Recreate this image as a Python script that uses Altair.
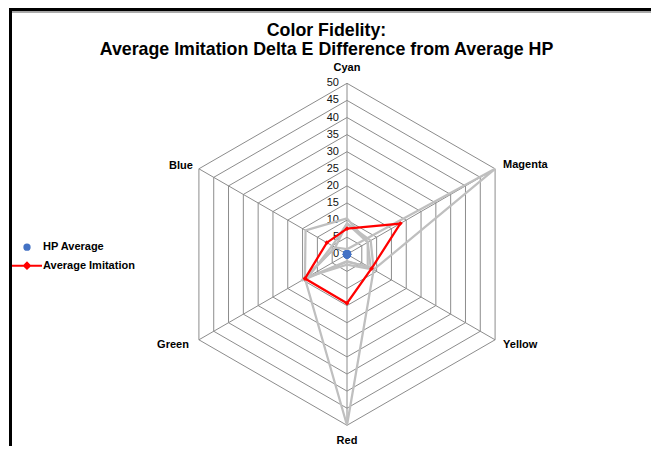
import altair as alt
import pandas as pd

FONT = "Liberation Sans"
BLUE = "#4472C4"
RED = "#FF0000"
GRAY_SERIES = "#BFBFBF"
GRID = "#8C8C8C"

categories = ["Cyan", "Magenta", "Yellow", "Red", "Green", "Blue"]
tick_values = [0, 5, 10, 15, 20, 25, 30, 35, 40, 45, 50]
ring_values = [5, 10, 15, 20, 25, 30, 35, 40, 45, 50]
series_names = ["HP Average", "Average Imitation"]

hp_average = [0, 0, 0, 0, 0, 0]
average_imitation = [7.5, 18.0, 8.3, 14.3, 14.2, 6.8]

imitation_1 = [1.5, 50.0, 9.0, 50.0, 14.2, 4.0]
imitation_2 = [10.5, 7.0, 8.0, 2.0, 14.2, 14.0]
imitation_3 = [9.0, 8.0, 9.0, 3.0, 13.0, 5.0]
imitation_4 = [9.0, 7.0, 7.0, 2.2, 15.4, 4.0]
gray_series = [imitation_1, imitation_2, imitation_3, imitation_4]

# layout (pixels)
TOTAL_W, TOTAL_H, PAD_TOP = 643, 438, 60
PLOT_W, PLOT_H = TOTAL_W, TOTAL_H - PAD_TOP
PX_PER_UNIT = 3.42
CX, CY = 339.0, 186.3
X_DOMAIN = [-CX / PX_PER_UNIT, (PLOT_W - CX) / PX_PER_UNIT]
Y_DOMAIN = [-(PLOT_H - CY) / PX_PER_UNIT, CY / PX_PER_UNIT]


def polygon_rows(name, values, close=True):
    n = len(categories)
    rows = []
    for k in range(n + 1 if close else n):
        i = k % n
        rows.append({"series": name, "category": categories[i], "idx": i,
                     "ord": k, "value": values[i]})
    return rows


rows = []
for j, s in enumerate(gray_series):
    rows += polygon_rows(f"Imitation {j + 1}", s)
gray_df = pd.DataFrame(rows)
avg_df = pd.DataFrame(polygon_rows("Average Imitation", average_imitation))
avg_pts_df = pd.DataFrame(polygon_rows("Average Imitation", average_imitation, close=False))
hp_pts_df = pd.DataFrame(polygon_rows("HP Average", hp_average, close=False))
legend_df = pd.DataFrame({"series": series_names})

ring_rows = []
for r in ring_values:
    ring_rows += polygon_rows(f"r{r}", [r] * 6)
ring_df = pd.DataFrame(ring_rows)
spoke_df = pd.DataFrame({"category": categories, "idx": list(range(6)), "value": [50] * 6})
tick_df = pd.DataFrame({"value": tick_values})

XS = alt.Scale(domain=X_DOMAIN, nice=False, zero=False)
YS = alt.Scale(domain=Y_DOMAIN, nice=False, zero=False)


def polar(ch):
    return ch.transform_calculate(
        x="datum.value * cos(PI / 2 - datum.idx * PI / 3)",
        y="datum.value * sin(PI / 2 - datum.idx * PI / 3)",
    )


X = alt.X("x:Q", scale=XS, axis=None)
Y = alt.Y("y:Q", scale=YS, axis=None)

rings = polar(alt.Chart(ring_df)).mark_line(color=GRID, strokeWidth=1).encode(
    x=X, y=Y, detail="series:N", order="ord:Q")

spokes = polar(alt.Chart(spoke_df)).transform_calculate(x0="0", y0="0").mark_rule(
    color=GRID, strokeWidth=1).encode(
    x=alt.X("x0:Q", scale=XS, axis=None), y=alt.Y("y0:Q", scale=YS, axis=None),
    x2="x:Q", y2="y:Q")

ticks = alt.Chart(tick_df).transform_calculate(x="0", y="datum.value").mark_text(
    align="right", baseline="middle", dx=-8, font=FONT, fontSize=11, color="#111").encode(
    x=X, y=Y, text="value:Q")

label_specs = {
    "Cyan": dict(align="center", dx=0, dy=-15),
    "Magenta": dict(align="left", dx=8, dy=-4),
    "Yellow": dict(align="left", dx=8, dy=5),
    "Red": dict(align="center", dx=0, dy=16),
    "Green": dict(align="right", dx=-10, dy=5),
    "Blue": dict(align="right", dx=-6, dy=-3),
}
label_layers = []
for cat, spec in label_specs.items():
    label_layers.append(
        polar(alt.Chart(spoke_df)).transform_filter(alt.datum.category == cat).mark_text(
            baseline="middle", font=FONT, fontSize=11, fontWeight="bold", color="black", **spec
        ).encode(x=X, y=Y, text="category:N"))

gray_lines = polar(alt.Chart(gray_df)).mark_line(color=GRAY_SERIES, strokeWidth=2.25).encode(
    x=X, y=Y, detail="series:N", order="ord:Q")

avg_line = polar(alt.Chart(avg_df)).mark_line(color=RED, strokeWidth=2.25).encode(
    x=X, y=Y, order="ord:Q")

avg_pts = polar(alt.Chart(avg_pts_df)).mark_point(
    filled=True, opacity=1, shape="diamond", size=22, color=RED).encode(x=X, y=Y)

hp_pts = polar(alt.Chart(hp_pts_df)).mark_point(
    filled=True, opacity=1, shape="circle", size=70, color=BLUE).encode(x=X, y=Y)

# legend-only layer (its own marks are drawn outside the clipped plot area)
LINE_PATH = "M-1,0H1M0,-0.2L0.2,0L0,0.2L-0.2,0Z"
legend = alt.Legend(
    title=None, orient="none", legendX=3, legendY=171.2, padding=0,
    clipHeight=16, rowPadding=2.5,
    labelFont=FONT, labelFontSize=11, labelFontWeight="bold", labelColor="black",
    labelOffset=0, symbolStrokeWidth=2, symbolOpacity=1,
)
legend_layer = alt.Chart(legend_df).mark_point(
    filled=True, clip=True, strokeWidth=2, opacity=1).encode(
    x=alt.value(-300), y=alt.value(-300),
    fill=alt.Fill("series:N", scale=alt.Scale(domain=series_names, range=[BLUE, RED]),
                  legend=legend),
    stroke=alt.Stroke("series:N", scale=alt.Scale(domain=series_names, range=[BLUE, RED]),
                      legend=legend),
    shape=alt.Shape("series:N", scale=alt.Scale(domain=series_names, range=["circle", LINE_PATH]),
                    legend=legend),
    size=alt.Size("series:N", scale=alt.Scale(domain=series_names, range=[28, 900]),
                  legend=legend),
)

border_top = alt.Chart(tick_df).mark_rule(color="black", strokeWidth=2).encode(
    x=alt.value(1.5), x2=alt.value(TOTAL_W + 20), y=alt.value(-PAD_TOP + 1.5))
border_shadow = alt.Chart(tick_df).mark_rule(color="#A6A6A6", strokeWidth=1.5).encode(
    x=alt.value(3), x2=alt.value(TOTAL_W + 20), y=alt.value(-PAD_TOP + 3.5))
border_left = alt.Chart(tick_df).mark_rule(color="black", strokeWidth=2).encode(
    x=alt.value(2.5), y=alt.value(-PAD_TOP + 0.5), y2=alt.value(PLOT_H + 20))

chart = alt.layer(
    rings, spokes, ticks, *label_layers, gray_lines, avg_line, avg_pts, hp_pts,
    legend_layer, border_shadow, border_top, border_left,
).properties(
    width=PLOT_W, height=PLOT_H,
    background="white",
    padding={"left": 0, "top": PAD_TOP, "right": 0, "bottom": 0},
    autosize=alt.AutoSizeParams(type="none"),
    title=alt.TitleParams(
        text=["Color Fidelity:", "Average Imitation Delta E Difference from Average HP"],
        font=FONT, fontSize=17.8, fontWeight="bold", color="black", lineHeight=19,
        anchor="middle", offset=11, dx=-3, dy=62),
).configure_view(stroke=None)

chart.save("out.html", embed_options={"renderer": "svg", "actions": False})
